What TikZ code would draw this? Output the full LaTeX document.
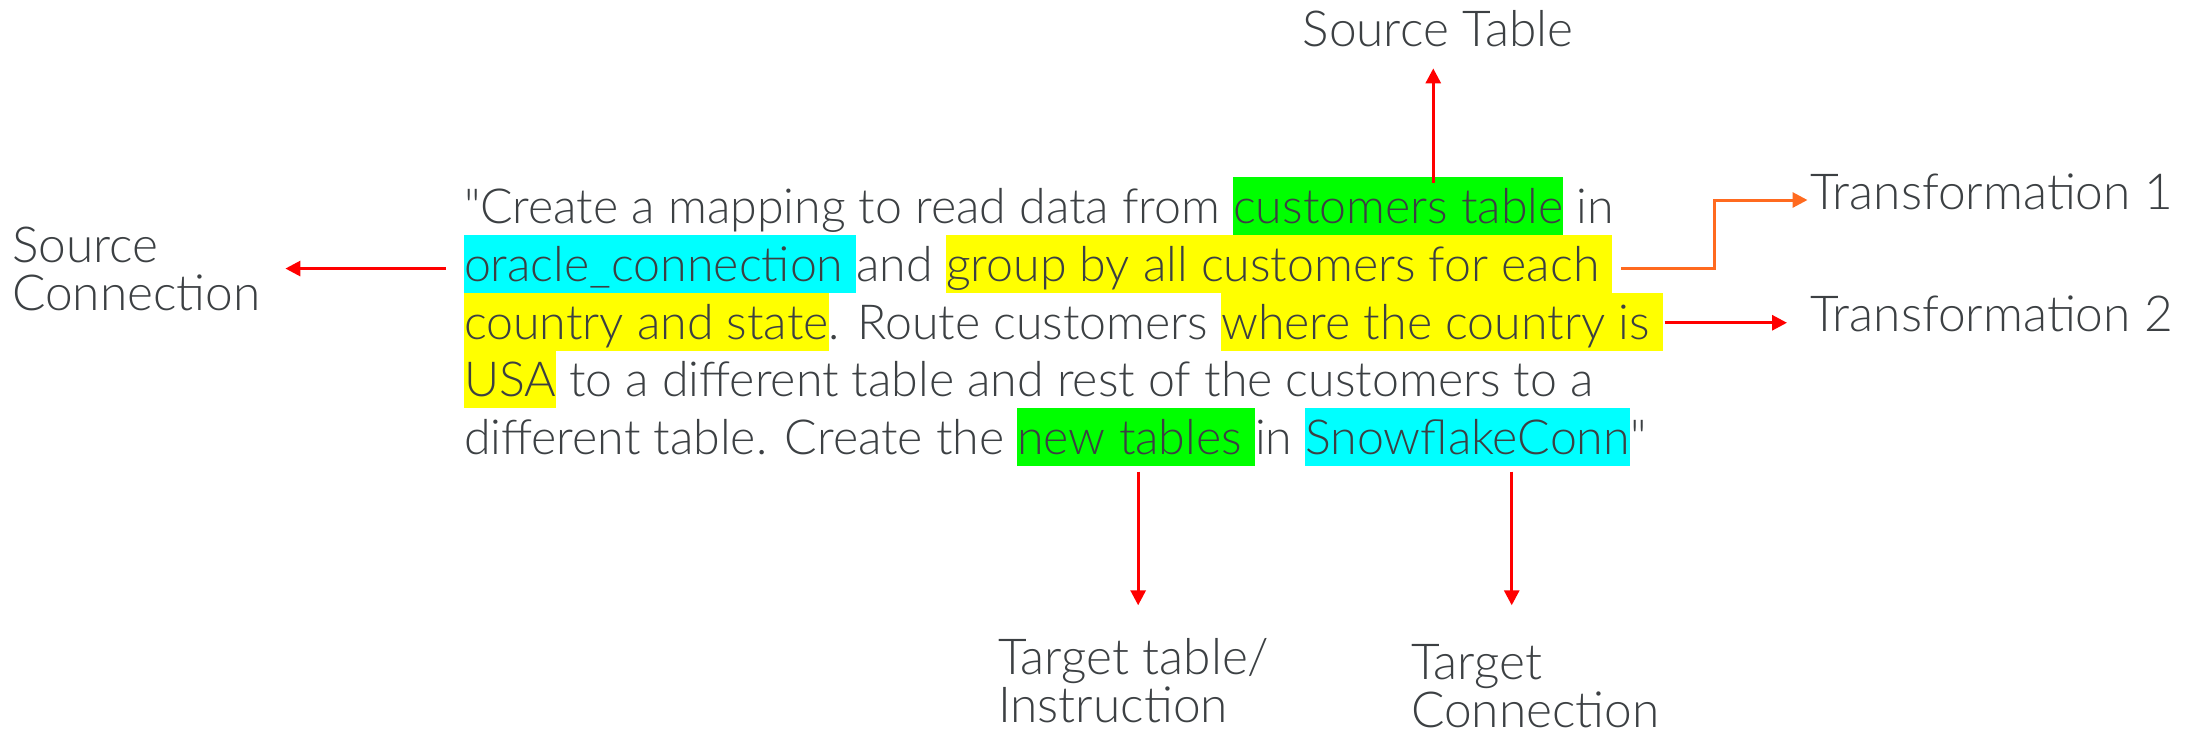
\documentclass[tikz,border=0pt]{standalone}
\usepackage{fontspec}
\setmainfont{Lato Light}
% same face without the TeX mapping, so that " stays a straight quote
\newfontfamily\straightq{Lato Light}
\usetikzlibrary{arrows.meta,calc}

\definecolor{ink}{HTML}{3C4043}
\definecolor{hlgreen}{HTML}{00FF00}
\definecolor{hlcyan}{HTML}{00FFFF}
\definecolor{hlyellow}{HTML}{FFFF00}
\definecolor{arrred}{HTML}{FF0000}
\definecolor{arrorange}{HTML}{FF6A1F}

% a word space that survives at the edge of a node box
\newcommand\wsp{\kern\fontdimen2\font}
% a straight double quote
\newcommand\dq{{\straightq\char34\relax}}
\newcommand\bodyfont{\fontsize{24.15}{25.8}\selectfont}
\newcommand\labelfont{\fontsize{24.8}{25.8}\selectfont}

\tikzset{
  seg/.style={inner sep=0pt, outer sep=0pt, anchor=base west,
    text height=23pt, text depth=5.75pt, font=\bodyfont, text=ink},
  hlg/.style={seg, fill=hlgreen},
  hlc/.style={seg, fill=hlcyan},
  hly/.style={seg, fill=hlyellow},
  lbl/.style={inner sep=0pt, outer sep=0pt, font=\labelfont, text=ink, align=left},
  redarrow/.style={draw=arrred, line width=1.5pt,
    -{Triangle[length=7.5pt,width=7.5pt]}},
  orangearrow/.style={draw=arrorange, line width=1.5pt,
    -{Triangle[length=7.5pt,width=7.5pt]}},
}

\begin{document}
\begin{tikzpicture}[x=0.5pt,y=-0.5pt]
\useasboundingbox (0,0) rectangle (2192,735);

% the request, one chain of nodes per line
\node[seg] (l1a) at (464,223.3) {\dq Create a mapping to read data from\wsp};
\node[hlg] (l1b) at (l1a.base east) {customers table};
\node[seg] (l1c) at (l1b.base east) {\wsp in};

\node[hlc] (l2a) at (464,281.3) {oracle\_connection\wsp};
\node[seg] (l2b) at (l2a.base east) {and\wsp};
\node[hly] (l2c) at (l2b.base east) {group by all customers for each\wsp};

\node[hly] (l3a) at (464,339.3) {country and state};
\node[seg] (l3b) at (l3a.base east) {. Route customers\wsp};
\node[hly] (l3c) at (l3b.base east) {where the country is\wsp};

\node[hly] (l4a) at (464,396.7) {USA};
\node[seg] (l4b) at (l4a.base east) {\wsp to a different table and rest of the customers to a};

\node[seg] (l5a) at (464,454) {different table. Create the\wsp};
\node[hlg] (l5b) at (l5a.base east) {new tables\wsp};
\node[seg] (l5c) at (l5b.base east) {in\wsp};
\node[hlc] (l5d) at (l5c.base east) {SnowflakeConn};
\node[seg] (l5e) at (l5d.base east) {\dq};

% labels round the request
\node[lbl, anchor=base] (srctab) at (1438,46) {Source Table};
\node[lbl, anchor=north west] (srcconn) at (12,226.7) {Source\\[-1.6pt]Connection};
\node[lbl, anchor=base west] (tr1) at (1810,209.3) {Transformation 1};
\node[lbl, anchor=base west] (tr2) at (1810,331.7) {Transformation 2};
\node[lbl, anchor=north west] (tgttab) at (998,638) {Target table/\\[-1.6pt]Instruction};
\node[lbl, anchor=north west] (tgtconn) at (1411,644) {Target\\[-1.6pt]Connection};

% connectors
\coordinate (stA) at ($(l1b.north)+(35,5.4)$);
\draw[redarrow, shorten >=11pt] (stA) -- (stA |- srctab.south);

\coordinate (scA) at ($(l2a.west)+(-18,4.5)$);
\draw[redarrow, shorten >=12.5pt] (scA) -- (scA -| srcconn.east);

\coordinate (t1A) at ($(l2c.east)+(9,4.3)$);
\coordinate (t1B) at ($(tr1.base west)+(-2.5,-9.3)$);
\draw[orangearrow] (t1A) -| ($(t1A)!0.5!(t1B)$) |- (t1B);

\coordinate (t2A) at ($(l3c.east)+(2,0.7)$);
\draw[redarrow, shorten >=11.5pt] (t2A) -- (t2A -| tr2.west);

\coordinate (ttA) at ($(l5b.south)+(2,6)$);
\draw[redarrow] (ttA) -- (ttA |- 0,605.3);

\coordinate (tcA) at ($(l5d.south)+(44,6)$);
\draw[redarrow] (tcA) -- (tcA |- 0,605.3);
\end{tikzpicture}
\end{document}
